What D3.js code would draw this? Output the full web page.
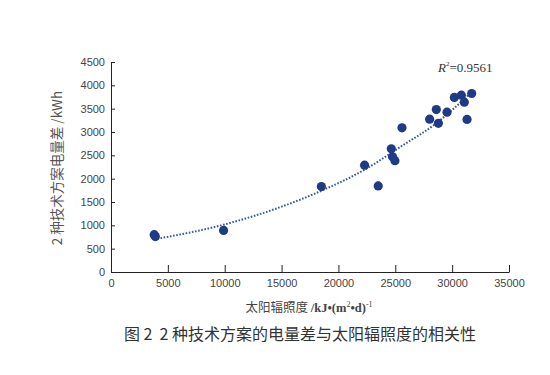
<!DOCTYPE html>
<html>
<head>
<meta charset="utf-8">
<script src="https://cdn.jsdelivr.net/npm/d3@7"></script>
<style>
    body { margin: 0; background: #fff; }
    .tick text { font-family: "Liberation Sans", Arial, sans-serif; font-size: 11px; fill: #444; }
</style>
</head>
<body>
<div id="chart"></div>
<script>
// scatter points: solar irradiance (kJ/(m2*d)) vs energy difference (kWh)
const irradiance = [3800, 3900, 9900, 18500, 22300, 23500, 24650, 24760, 24970, 25590,
    28020, 28610, 28790, 29550, 30190, 30810, 31070, 31310, 31720];
const energyDiff = [800, 760, 890, 1830, 2290, 1845, 2640, 2470, 2385, 3090,
    3275, 3480, 3185, 3425, 3740, 3790, 3640, 3270, 3825];

// dotted trend line
const trendX = [3800, 10000, 15000, 18500, 22500, 25500, 28400, 31700];
const trendY = [700, 1020, 1400, 1740, 2220, 2690, 3150, 3850];

const xTicks = [0, 5000, 10000, 15000, 20000, 25000, 30000, 35000];
const yTicks = [0, 500, 1000, 1500, 2000, 2500, 3000, 3500, 4000, 4500];

const margin = {top: 62, right: 41, bottom: 103, left: 111};
const width = 550 - margin.left - margin.right;
const height = 375 - margin.top - margin.bottom;

const svg = d3.select("#chart").append("svg")
    .attr("width", 550)
    .attr("height", 375);

const g = svg.append("g")
    .attr("transform", `translate(${margin.left},${margin.top})`);

const x = d3.scaleLinear().domain([0, 35000]).range([0, width]);
const y = d3.scaleLinear().domain([0, 4500]).range([height, 0]);

// y axis, ticks cross the axis line
const yAxis = g.append("g")
    .call(d3.axisLeft(y).tickValues(yTicks).tickFormat(d3.format("d"))
        .tickSize(4).tickSizeOuter(0).tickPadding(2));
yAxis.selectAll(".tick line").attr("x2", 4).attr("stroke", "#222");
yAxis.select(".domain").attr("stroke", "#222");

// x axis, ticks point inward
const xAxis = g.append("g")
    .attr("transform", `translate(0,${height})`)
    .call(d3.axisBottom(x).tickValues(xTicks).tickFormat(d3.format("d"))
        .tickSize(0).tickSizeOuter(0).tickPadding(7));
xAxis.selectAll(".tick line").attr("y2", -7).attr("stroke", "#222");
xAxis.select(".domain").attr("stroke", "#222");

// trend line
const line = d3.line()
    .x((d, i) => x(trendX[i]))
    .y(d => y(d))
    .curve(d3.curveMonotoneX);

g.append("path")
    .datum(trendY)
    .attr("d", line)
    .attr("fill", "none")
    .attr("stroke", "#3a5a98")
    .attr("stroke-width", 2)
    .attr("stroke-dasharray", "1.6,1.6");

// points
g.selectAll(".dot")
    .data(irradiance)
    .enter()
    .append("circle")
    .attr("class", "dot")
    .attr("cx", d => x(d))
    .attr("cy", (d, i) => y(energyDiff[i]))
    .attr("r", 4.6)
    .attr("fill", "#1f3a86");

// R2 label
const r2 = svg.append("text")
    .attr("x", 438)
    .attr("y", 72)
    .attr("font-family", "Liberation Serif, Times New Roman, serif")
    .attr("font-size", 13)
    .attr("fill", "#333");
r2.append("tspan").attr("font-style", "italic").text("R");
r2.append("tspan").attr("font-size", 7).attr("dy", -6).text("2");
r2.append("tspan").attr("dy", 6).text("=0.9561");

// axis titles
svg.append("text")
    .attr("transform", `translate(62,168)rotate(-90)`)
    .attr("text-anchor", "middle")
    .attr("font-family", "Noto Sans CJK SC, sans-serif")
    .attr("font-size", 13.5)
    .attr("fill", "#555")
    .text("2 种技术方案电量差 /kWh");

const xl = svg.append("text")
    .attr("x", 309)
    .attr("y", 312)
    .attr("text-anchor", "middle")
    .attr("font-family", "Noto Sans CJK SC, sans-serif")
    .attr("font-size", 12.5)
    .attr("fill", "#444");
xl.append("tspan").text("太阳辐照度 ");
xl.append("tspan").attr("font-family", "Liberation Serif, serif").attr("font-weight", "bold").text("/kJ•(m");
xl.append("tspan").attr("font-family", "Liberation Serif, serif").attr("font-size", 8).attr("dy", -5).text("2");
xl.append("tspan").attr("font-family", "Liberation Serif, serif").attr("font-weight", "bold").attr("dy", 5).text("•d)");
xl.append("tspan").attr("font-family", "Liberation Serif, serif").attr("font-size", 8).attr("dy", -5).text("-1");

// figure caption
svg.append("text")
    .attr("x", 300)
    .attr("y", 340)
    .attr("text-anchor", "middle")
    .attr("font-family", "Noto Sans CJK SC, sans-serif")
    .attr("font-size", 16)
    .attr("fill", "#333")
    .text("图 2\u00a0\u00a02 种技术方案的电量差与太阳辐照度的相关性");
</script>
</body>
</html>
